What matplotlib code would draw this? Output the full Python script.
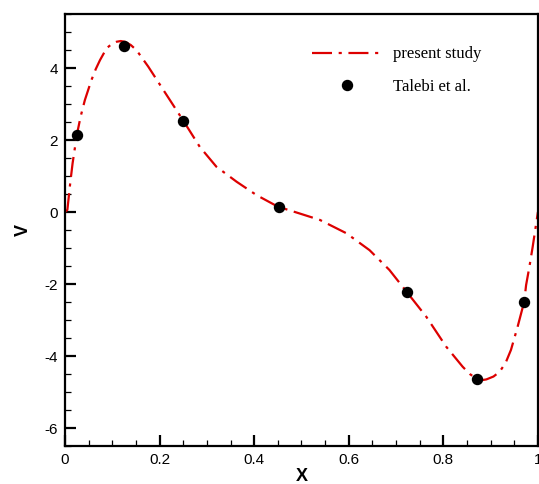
import matplotlib
matplotlib.use("Agg")
import matplotlib.pyplot as plt
from matplotlib.ticker import MultipleLocator

# present study (curve)
curve_x = [0.0, 0.005, 0.011, 0.016, 0.025, 0.033, 0.042, 0.056, 0.065, 0.074, 0.088,
           0.100, 0.109, 0.118, 0.127, 0.139, 0.151, 0.176, 0.208, 0.25, 0.285, 0.32, 0.363,
           0.405, 0.45, 0.496, 0.539, 0.595, 0.644, 0.686, 0.722, 0.764, 0.806,
           0.841, 0.856, 0.869, 0.882, 0.891, 0.906, 0.919, 0.932, 0.943, 0.957, 0.971,
           0.975, 0.982, 0.989, 1.0]
curve_y = [0.0, 0.06, 0.80, 1.35, 2.14, 2.65, 3.11, 3.67, 3.97, 4.22, 4.55,
           4.68, 4.73, 4.75, 4.73, 4.64, 4.50, 4.04, 3.39, 2.54, 1.81, 1.26, 0.84,
           0.47, 0.15, -0.04, -0.22, -0.59, -1.06, -1.61, -2.21, -2.91, -3.74,
           -4.30, -4.50, -4.62, -4.67, -4.65, -4.57, -4.44, -4.18, -3.83, -3.19, -2.49,
           -2.03, -1.52, -0.96, 0.0]

# Talebi et al.
ref_x = [0.025, 0.124, 0.25, 0.452, 0.723, 0.871, 0.970]
ref_y = [2.14, 4.60, 2.54, 0.14, -2.21, -4.63, -2.49]

plt.rcParams['font.family'] = ['Liberation Sans', 'DejaVu Sans']
plt.rcParams['axes.unicode_minus'] = False

fig = plt.figure(figsize=(5.39, 4.84), dpi=100)
ax = fig.add_axes([0.1206, 0.0785, 0.8774, 0.8925])

ax.plot(curve_x, curve_y, color='#dd0000', lw=1.6,
        linestyle=(0, (9, 3, 1.4, 3)), label='present study')
ax.plot(ref_x, ref_y, 'o', color='black', ms=7.2, label='Talebi et al.')

ax.set_xlim(0, 1)
ax.set_ylim(-6.5, 5.5)
ax.xaxis.set_major_locator(MultipleLocator(0.2))
ax.xaxis.set_minor_locator(MultipleLocator(0.05))
ax.yaxis.set_major_locator(MultipleLocator(2))
ax.yaxis.set_minor_locator(MultipleLocator(0.5))
ax.set_xticks([0, 0.2, 0.4, 0.6, 0.8, 1.0])
ax.set_xticklabels(['0', '0.2', '0.4', '0.6', '0.8', '1'])

ax.tick_params(which='major', direction='in', length=8, width=1.6,
               labelsize=11, pad=5, top=False, right=False)
ax.tick_params(which='minor', direction='in', length=4.5, width=0.9,
               top=False, right=False)
for s in ax.spines.values():
    s.set_linewidth(1.6)

ax.set_xlabel('X', fontsize=13, fontweight='bold', labelpad=1)
ax.set_ylabel('V', fontsize=13, fontweight='bold', labelpad=9)

leg = ax.legend(loc='upper left', bbox_to_anchor=(0.522, 0.925), frameon=False,
                prop={'family': 'Liberation Serif', 'size': 12},
                handlelength=4.2, labelspacing=0.98, handletextpad=0.66,
                borderpad=0, borderaxespad=0)

fig.savefig('out.png', dpi=100)
